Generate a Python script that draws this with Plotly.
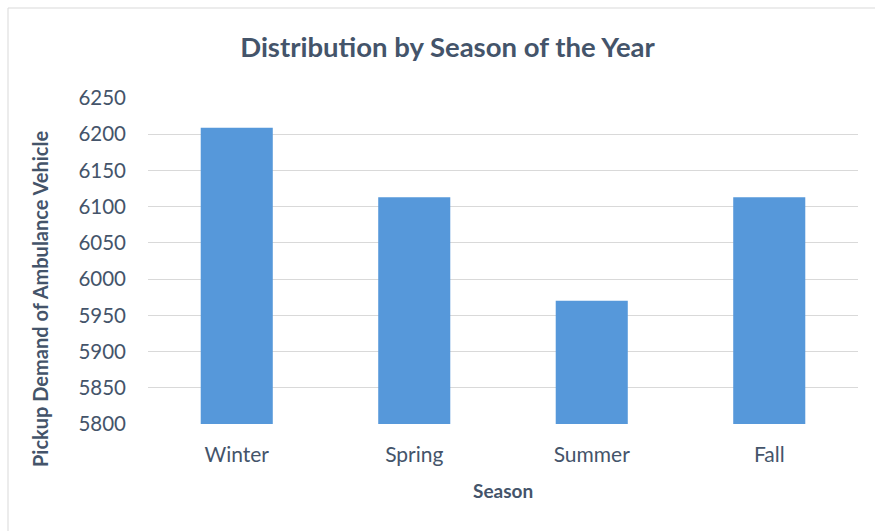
import plotly.graph_objects as go

seasons = ["Winter", "Spring", "Summer", "Fall"]
demand = [6209, 6113, 5970, 6113]
y_ticks = [5800, 5850, 5900, 5950, 6000, 6050, 6100, 6150, 6200, 6250]

W, H = 875, 531
L, R, T, B = 148, 17, 98, 107
text_col = "#44546a"
font_fam = "Lato, 'Open Sans', sans-serif"

fig = go.Figure(go.Bar(
    x=seasons, y=demand,
    marker=dict(color="#5698da", line=dict(width=0)),
))

pw = W - L - R
ph = H - T - B
fig.add_shape(type="rect", xref="paper", yref="paper",
              x0=(8 - L) / pw, x1=(W + 2 - L) / pw,
              y0=-(H + 2 - T - ph) / ph, y1=(T - 8) / ph + 1,
              line=dict(color="#d9d9d9", width=1), layer="below")

fig.add_annotation(text="<b>Pickup Demand of Ambulance Vehicle</b>",
                   xref="paper", yref="paper",
                   x=(40 - L) / pw, y=1 - (299 - T) / ph,
                   xanchor="center", yanchor="middle", textangle=-90,
                   showarrow=False, font=dict(size=20, color=text_col, family=font_fam))
fig.add_annotation(text="<b>Season</b>",
                   xref="paper", yref="paper",
                   x=0.5, y=-(490 - T - ph) / ph,
                   xanchor="center", yanchor="middle",
                   showarrow=False, font=dict(size=19, color=text_col, family=font_fam))

fig.update_layout(
    width=W, height=H,
    margin=dict(l=L, r=R, t=T, b=B),
    paper_bgcolor="white", plot_bgcolor="white",
    bargap=0.594,
    showlegend=False,
    title=dict(text="<b>Distribution by Season of the Year</b>",
               x=(240 + 655) / 2 / W, xanchor="center",
               y=1 - 47 / H, yanchor="middle",
               font=dict(family=font_fam, size=27.5, color=text_col)),
    font=dict(family=font_fam, color=text_col),
    xaxis=dict(
        tickfont=dict(size=21, color=text_col),
        showgrid=False, showline=False, ticks="",
        ticklabelstandoff=16,
    ),
    yaxis=dict(
        range=[5800, 6250], tickvals=y_ticks,
        tickfont=dict(size=20.5, color=text_col),
        gridcolor="#d9d9d9", gridwidth=1,
        zeroline=False, showline=False, ticks="",
        ticklabelstandoff=21,
    ),
)

fig.write_html("out.html")
